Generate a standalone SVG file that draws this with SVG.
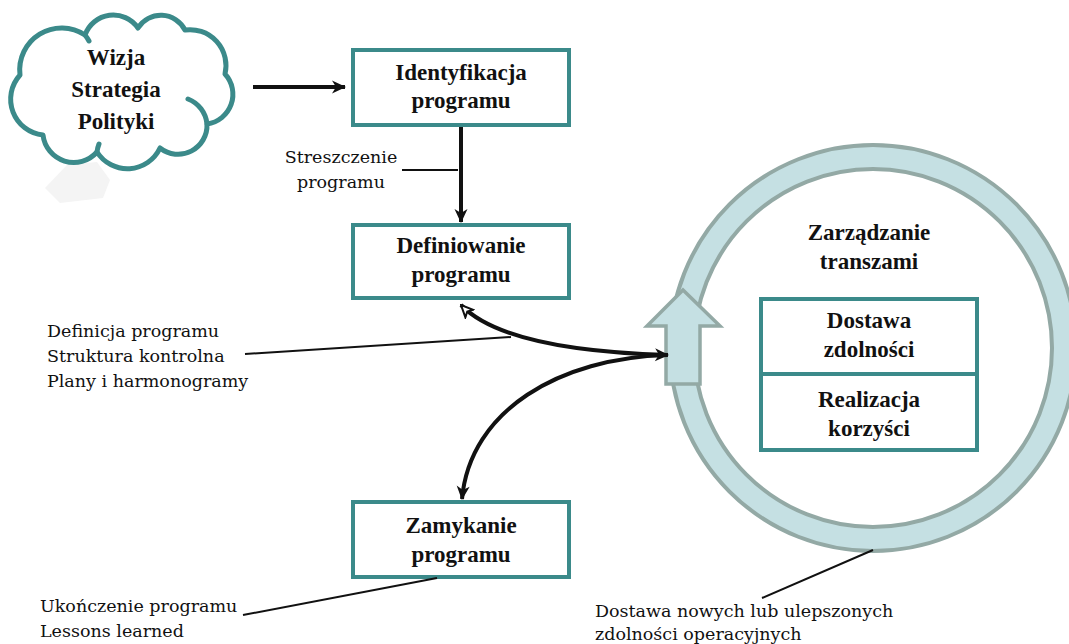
<svg xmlns="http://www.w3.org/2000/svg" width="1069" height="644" viewBox="0 0 1069 644">
<defs>
<style>
.box{fill:#fff;stroke:#3b8a8a;stroke-width:4}
.bt{font-family:"Liberation Serif",serif;font-weight:bold;font-size:23px;fill:#111;text-anchor:middle}
.lbl{font-family:"DejaVu Serif",serif;font-size:17.5px;fill:#111}
.lead{stroke:#111;stroke-width:2;fill:none}
.conn{stroke:#111;stroke-width:4;fill:none}
</style>
<marker id="ah" viewBox="0 0 16 16" refX="14" refY="8" markerWidth="16" markerHeight="16" markerUnits="userSpaceOnUse" orient="auto">
<path d="M1,1.5 L15,8 L1,14.5 L5,8 z" fill="#111"/>
</marker>
<marker id="ao" viewBox="0 0 14 14" refX="13" refY="7" markerWidth="14" markerHeight="14" markerUnits="userSpaceOnUse" orient="auto-start-reverse">
<path d="M1,1.5 L13,7 L1,12.5 L4,7 z" fill="#fff" stroke="#111" stroke-width="2"/>
</marker>
</defs>
<rect width="1069" height="644" fill="#fff"/>

<g id="ring">
<circle cx="873" cy="348" r="191" fill="none" stroke="#93a9a5" stroke-width="28"/>
<circle cx="873" cy="348" r="191" fill="none" stroke="#c5e0e3" stroke-width="20"/>
<polygon points="683,290 720,326 700,326 700,384 666,384 666,326 647,326" fill="#c5e0e3" stroke="#93a9a5" stroke-width="3.5" stroke-linejoin="miter"/>
<text class="bt" x="869" y="240">Zarządzanie</text>
<text class="bt" x="869" y="269">transzami</text>
</g>

<g id="dostawa">
<rect class="box" x="761" y="299" width="216" height="75"/>
<text class="bt" x="869" y="328">Dostawa</text>
<text class="bt" x="869" y="357">zdolności</text>
</g>
<g id="realizacja">
<rect class="box" x="761" y="374" width="216" height="76"/>
<text class="bt" x="869" y="407">Realizacja</text>
<text class="bt" x="869" y="436">korzyści</text>
</g>

<g id="cloud">
<polygon points="45,188 67,165 97,162 110,180 103,198 60,203" fill="#f4f4f4"/>
<path d="M20,75 A42,42 0 0 1 85,35 A30,30 0 0 1 138,28 A27,27 0 0 1 185,30 A36,36 0 0 1 225,74 A30,30 0 0 1 207,124 A29,29 0 0 1 160,148 A36,36 0 0 1 97,152 A31,31 0 0 1 43,135 A36,36 0 0 1 20,75 Z" fill="#fff" stroke="#3b8a8a" stroke-width="5" stroke-linejoin="round"/>
<path d="M188,99 A30,30 0 0 1 207,124" fill="none" stroke="#3b8a8a" stroke-width="5" stroke-linecap="round"/>
<path d="M85,35 A40,40 0 0 1 89,41" fill="none" stroke="#3b8a8a" stroke-width="5" stroke-linecap="round"/>
<path d="M97,152 A30,30 0 0 1 99,144" fill="none" stroke="#3b8a8a" stroke-width="5" stroke-linecap="round"/>
<text class="bt" x="116" y="65">Wizja</text>
<text class="bt" x="116" y="97">Strategia</text>
<text class="bt" x="116" y="129">Polityki</text>
</g>

<g id="identyfikacja">
<rect class="box" x="353" y="50" width="216" height="75"/>
<text class="bt" x="461" y="80">Identyfikacja</text>
<text class="bt" x="461" y="108">programu</text>
</g>
<g id="definiowanie">
<rect class="box" x="353" y="225" width="216" height="73"/>
<text class="bt" x="461" y="253">Definiowanie</text>
<text class="bt" x="461" y="282">programu</text>
</g>
<g id="zamykanie">
<rect class="box" x="353" y="502" width="216" height="75"/>
<text class="bt" x="461" y="533">Zamykanie</text>
<text class="bt" x="461" y="562">programu</text>
</g>

<g id="connectors">
<line class="conn" x1="253" y1="87" x2="345" y2="87" marker-end="url(#ah)"/>
<line class="conn" x1="461" y1="127" x2="461" y2="222" marker-end="url(#ah)"/>
<path class="conn" d="M461,305 C490,335 560,352 668,355" marker-start="url(#ao)" marker-end="url(#ah)"/>
<path class="conn" d="M667,355 C560,358 470,410 462,499" marker-end="url(#ah)"/>
</g>

<g id="labels">
<line class="lead" x1="402" y1="170" x2="458" y2="170"/>
<text class="lbl" x="341" y="163" text-anchor="middle">Streszczenie</text>
<text class="lbl" x="341" y="188" text-anchor="middle">programu</text>
<line class="lead" x1="245" y1="354" x2="511" y2="337"/>
<text class="lbl" x="47" y="337">Definicja programu</text>
<text class="lbl" x="47" y="362">Struktura kontrolna</text>
<text class="lbl" x="47" y="387">Plany i harmonogramy</text>
<line class="lead" x1="243" y1="615" x2="437" y2="578"/>
<text class="lbl" x="40" y="612">Ukończenie programu</text>
<text class="lbl" x="40" y="637">Lessons learned</text>
<line class="lead" x1="762" y1="598" x2="873" y2="550"/>
<text class="lbl" x="595" y="617">Dostawa nowych lub ulepszonych</text>
<text class="lbl" x="595" y="640">zdolności operacyjnych</text>
</g>
</svg>
